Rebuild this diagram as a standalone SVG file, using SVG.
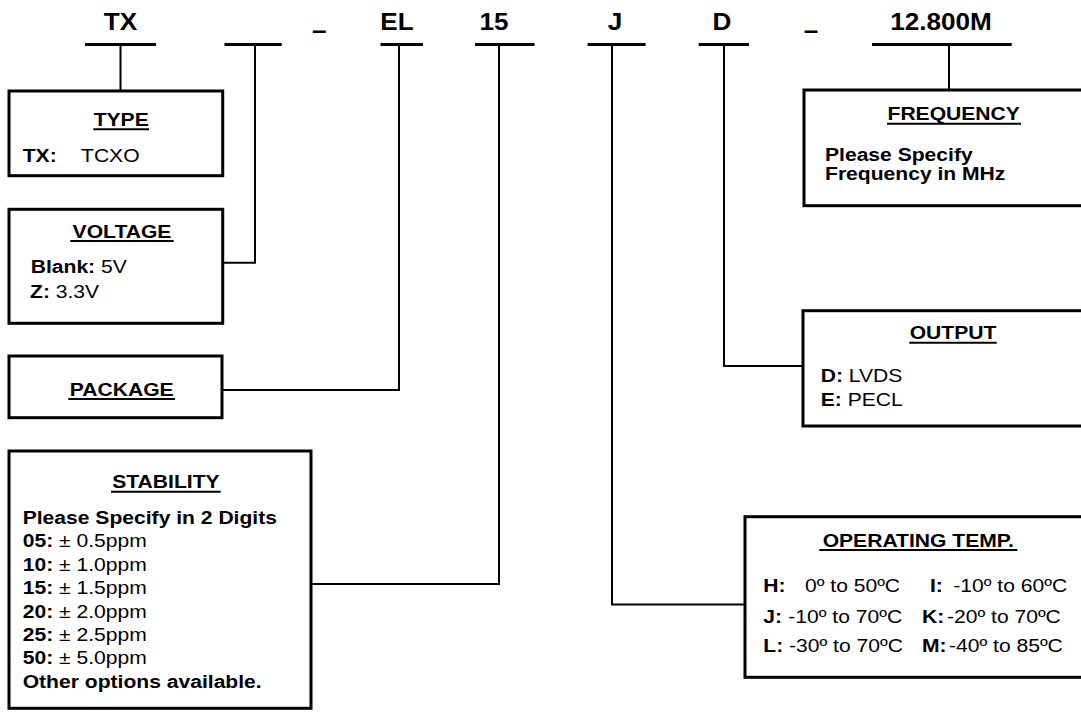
<svg xmlns="http://www.w3.org/2000/svg" width="1081" height="719" viewBox="0 0 1081 719">
<style>
text { font-family: "Liberation Sans", Arial, sans-serif; fill: #000; }
.h { font-size: 23px; font-weight: bold; text-anchor: middle; }
.hd { font-size: 18.5px; font-weight: bold; text-anchor: middle; }
.t { font-size: 18.5px; }
.b { font-weight: bold; }
.box { fill: #fff; stroke: #000; stroke-width: 3; }
.ul { stroke: #000; stroke-width: 3; }
.hu { stroke: #000; stroke-width: 2; }
.con { fill: none; stroke: #000; stroke-width: 2; }
</style>
<rect width="1081" height="719" fill="#fff"/>
<g id="code">
<text class="h" transform="translate(120.5,30) scale(1.135,1)">TX</text>
<text class="h" transform="translate(319.3,38) scale(1.135,1)">–</text>
<text class="h" transform="translate(397,30) scale(1.135,1)">EL</text>
<text class="h" transform="translate(494,30) scale(1.135,1)">15</text>
<text class="h" transform="translate(615,30) scale(1.135,1)">J</text>
<text class="h" transform="translate(722,30) scale(1.135,1)">D</text>
<text class="h" transform="translate(811,38) scale(1.135,1)">–</text>
<text class="h" transform="translate(941,30) scale(1.135,1)">12.800M</text>
<line class="ul" x1="85" y1="44.5" x2="156" y2="44.5"/>
<line class="ul" x1="224.5" y1="44.5" x2="281.7" y2="44.5"/>
<line class="ul" x1="380.5" y1="44.5" x2="423" y2="44.5"/>
<line class="ul" x1="475" y1="44.5" x2="534.5" y2="44.5"/>
<line class="ul" x1="587.6" y1="44.5" x2="645.6" y2="44.5"/>
<line class="ul" x1="698.7" y1="44.5" x2="749" y2="44.5"/>
<line class="ul" x1="872" y1="44.5" x2="1011.7" y2="44.5"/>
</g>
<g id="connectors">
<path class="con" d="M120.5,44.5 V91"/>
<path class="con" d="M255,44.5 V262.7 H222.7"/>
<path class="con" d="M399,44.5 V390 H222"/>
<path class="con" d="M499,44.5 V584 H311"/>
<path class="con" d="M612,44.5 V604.6 H745"/>
<path class="con" d="M724,44.5 V366 H803"/>
<path class="con" d="M949,44.5 V90"/>
</g>
<g id="type">
<rect class="box" x="9" y="91" width="213.7" height="84.7"/>
<text class="hd" transform="translate(121.2,125.7) scale(1.14,1)">TYPE</text>
<line class="hu" x1="93.3" y1="129.3" x2="149" y2="129.3"/>
<text class="t b" transform="translate(22.7,162.3) scale(1.14,1)">TX:</text>
<text class="t" transform="translate(81,162.3) scale(1.14,1)">TCXO</text>
</g>
<g id="voltage">
<rect class="box" x="9" y="209.3" width="213.7" height="114"/>
<text class="hd" transform="translate(122,237.5) scale(1.14,1)">VOLTAGE</text>
<line class="hu" x1="70.3" y1="241" x2="173.7" y2="241"/>
<text class="t" transform="translate(30.7,273.3) scale(1.14,1)"><tspan class="b">Blank:</tspan> 5V</text>
<text class="t" transform="translate(30,298.3) scale(1.14,1)"><tspan class="b">Z:</tspan> 3.3V</text>
</g>
<g id="package">
<rect class="box" x="9" y="356" width="213" height="61.7"/>
<text class="hd" transform="translate(121.7,395.5) scale(1.14,1)">PACKAGE</text>
<line class="hu" x1="68.3" y1="399" x2="175" y2="399"/>
</g>
<g id="stability">
<rect class="box" x="9" y="451" width="302" height="257.3"/>
<text class="hd" transform="translate(165.9,488) scale(1.14,1)">STABILITY</text>
<line class="hu" x1="111" y1="491.7" x2="220.7" y2="491.7"/>
<text class="t b" transform="translate(22.7,524) scale(1.14,1)">Please Specify in 2 Digits</text>
<text class="t" transform="translate(22.7,547.4) scale(1.14,1)"><tspan class="b">05:</tspan> ± 0.5ppm</text>
<text class="t" transform="translate(22.7,570.8) scale(1.14,1)"><tspan class="b">10:</tspan> ± 1.0ppm</text>
<text class="t" transform="translate(22.7,594.2) scale(1.14,1)"><tspan class="b">15:</tspan> ± 1.5ppm</text>
<text class="t" transform="translate(22.7,617.6) scale(1.14,1)"><tspan class="b">20:</tspan> ± 2.0ppm</text>
<text class="t" transform="translate(22.7,641) scale(1.14,1)"><tspan class="b">25:</tspan> ± 2.5ppm</text>
<text class="t" transform="translate(22.7,664.4) scale(1.14,1)"><tspan class="b">50:</tspan> ± 5.0ppm</text>
<text class="t b" transform="translate(22.7,687.8) scale(1.14,1)">Other options available.</text>
</g>
<g id="frequency">
<rect class="box" x="804" y="90" width="290" height="115.7"/>
<text class="hd" transform="translate(953.7,120) scale(1.14,1)">FREQUENCY</text>
<line class="hu" x1="887" y1="123.7" x2="1021" y2="123.7"/>
<text class="t b" transform="translate(825,161) scale(1.14,1)">Please Specify</text>
<text class="t b" transform="translate(825,180) scale(1.14,1)">Frequency in MHz</text>
</g>
<g id="output">
<rect class="box" x="803" y="310.7" width="291" height="115.3"/>
<text class="hd" transform="translate(953,339) scale(1.14,1)">OUTPUT</text>
<line class="hu" x1="909.3" y1="342.7" x2="996.7" y2="342.7"/>
<text class="t" transform="translate(820.7,381.7) scale(1.14,1)"><tspan class="b">D:</tspan> LVDS</text>
<text class="t" transform="translate(820.7,406) scale(1.14,1)"><tspan class="b">E:</tspan> PECL</text>
</g>
<g id="operating-temp">
<rect class="box" x="745" y="516.7" width="349" height="160.6"/>
<text class="hd" transform="translate(918.3,546.5) scale(1.14,1)">OPERATING TEMP.</text>
<line class="hu" x1="819.3" y1="550" x2="1017.3" y2="550"/>
<text class="t b" transform="translate(763.3,592) scale(1.14,1)">H:</text>
<text class="t" transform="translate(805,592) scale(1.14,1)">0º to 50ºC</text>
<text class="t b" transform="translate(930,592) scale(1.14,1)">I:</text>
<text class="t" transform="translate(953.3,592) scale(1.14,1)">-10º to 60ºC</text>
<text class="t b" transform="translate(763.3,622.5) scale(1.14,1)">J:</text>
<text class="t" transform="translate(788.3,622.5) scale(1.14,1)">-10º to 70ºC</text>
<text class="t b" transform="translate(922,622.5) scale(1.14,1)">K:</text>
<text class="t" transform="translate(947,622.5) scale(1.14,1)">-20º to 70ºC</text>
<text class="t" transform="translate(763.3,652) scale(1.14,1)"><tspan class="b">L:</tspan> -30º to 70ºC</text>
<text class="t b" transform="translate(922,652) scale(1.14,1)">M:</text>
<text class="t" transform="translate(949,652) scale(1.14,1)">-40º to 85ºC</text>
</g>
</svg>
